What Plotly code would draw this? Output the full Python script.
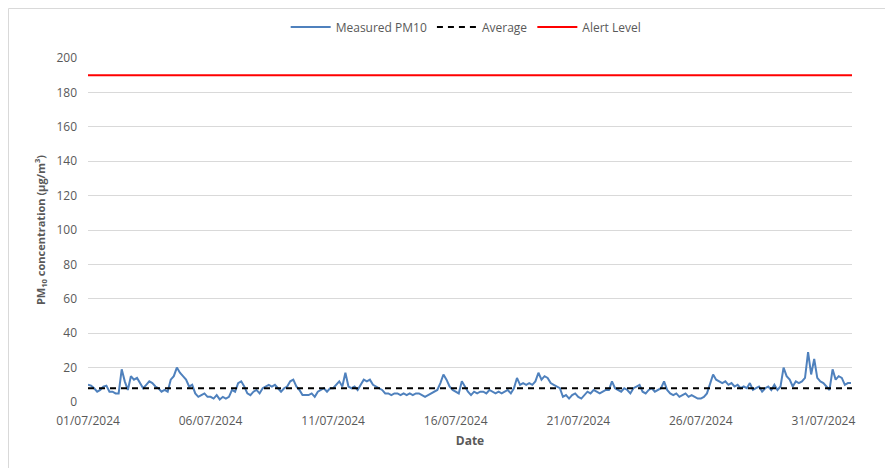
import pandas as pd
import plotly.graph_objects as go

# ---- data (3-hourly readings) ----
start_date = "2024-07-01 00:00"
step_hours = 3
pm10_values = [
    10, 9.5, 8, 6, 7, 9, 9.5, 6,        # 01/07
    6, 5, 5, 19, 12, 7, 15, 13,         # 02/07
    14, 11, 8, 10, 12, 11, 9, 8,        # 03/07
    6, 7, 6, 13, 15, 20, 17, 15,        # 04/07
    13, 9, 10, 5, 3, 4, 5, 3,           # 05/07
    3, 2, 4, 1.5, 3, 2, 3, 7,           # 06/07
    6, 11, 12, 9, 5, 4, 6, 7,           # 07/07
    5, 8, 9, 10, 9, 10, 8, 6,           # 08/07
    8, 9, 12, 13, 9, 7, 4, 4,           # 09/07
    4, 5, 3, 6, 7, 8, 6, 8,             # 10/07
    8, 10, 12, 9, 17, 9, 8, 9,          # 11/07
    7, 10, 13, 12, 13, 10, 9, 8,        # 12/07
    7, 5, 5, 4, 5, 5, 4, 5,             # 13/07
    4, 5, 4, 5, 5, 4, 3, 4,             # 14/07
    5, 6, 7, 11, 16, 13, 9, 7,          # 15/07
    6, 5, 12, 9, 6, 4, 6, 5,            # 16/07
    6, 6, 5, 7, 6, 5, 6, 5,             # 17/07
    6, 7, 5, 8, 14, 10, 11, 10,         # 18/07
    11, 10, 12, 17, 13, 15, 14, 11,     # 19/07
    10, 9, 8, 3, 4, 2, 4, 5,            # 20/07
    3, 2, 4, 6, 5, 7, 6, 5,             # 21/07
    6, 7, 7, 12, 8, 7, 6, 8,            # 22/07
    7, 5, 8, 9, 10, 6, 5, 7,            # 23/07
    8, 6, 7, 8, 12, 7, 5, 4,            # 24/07
    5, 3, 4, 5, 3, 4, 3, 2,             # 25/07
    2, 3, 5, 10, 16, 13, 12, 11,        # 26/07
    12, 10, 11, 9, 10, 8, 9, 8,         # 27/07
    11, 7, 8, 9, 6, 8, 9, 7,            # 28/07
    10, 7, 9, 20, 15, 13, 9, 12,        # 29/07
    11, 12, 14, 29, 16, 25, 14, 12,     # 30/07
    11, 9, 7, 19, 13, 15, 14, 10,       # 31/07
    11, 11,                             # 01/08
]
average_value = 8
alert_level = 190
axis_start = "2024-07-01 00:00"
axis_end = "2024-08-01 04:00"
y_ticks = [0, 20, 40, 60, 80, 100, 120, 140, 160, 180, 200]

times = pd.date_range(start_date, periods=len(pm10_values), freq=f"{step_hours}h")

FONT = "Open Sans"
GREY = "#595959"

# plot area in figure pixels
L, T, PW, PH = 80, 50, 764, 344

fig = go.Figure()
fig.add_trace(go.Scatter(
    x=times, y=pm10_values, mode="lines", name="Measured PM10",
    line=dict(color="#4f81bd", width=2),
))
fig.add_trace(go.Scatter(
    x=[axis_start, axis_end], y=[average_value, average_value], mode="lines",
    name="Average", line=dict(color="black", width=2, dash="6px,5px"),
))
fig.add_trace(go.Scatter(
    x=[axis_start, axis_end], y=[alert_level, alert_level], mode="lines",
    name="Alert Level", line=dict(color="#ff0000", width=2),
))

fig.update_layout(
    width=893, height=468,
    margin=dict(l=L, r=893 - L - PW, t=T, b=468 - T - PH, autoexpand=False),
    paper_bgcolor="white", plot_bgcolor="white",
    font=dict(family=FONT, size=12, color=GREY),
    showlegend=True,
    legend=dict(orientation="h", x=0.495, xanchor="center", y=1.09, yanchor="middle",
                font=dict(family=FONT, size=12, color=GREY), itemwidth=40,
                tracegroupgap=0),
    xaxis=dict(
        type="date", range=[axis_start, axis_end], automargin=False,
        tick0="2024-07-01", dtick=5 * 86400000, tickformat="%d/%m/%Y",
        showgrid=False, zeroline=False, showline=False, ticks="",
        ticklabelstandoff=10,
        tickfont=dict(family=FONT, size=12, color=GREY),
        title=dict(text="<b>Date</b>", font=dict(family=FONT, size=12, color=GREY), standoff=8),
    ),
    yaxis=dict(
        range=[0, 200], tickvals=y_ticks, showgrid=True, gridcolor="#d9d9d9", gridwidth=1,
        zeroline=False, showline=False, ticks="", automargin=False,
        ticklabelstandoff=10,
        tickfont=dict(family=FONT, size=12, color=GREY),
        title=dict(text="<b>PM<sub>10</sub> concentration (µg/m<sup>3</sup>)</b>",
                   font=dict(family=FONT, size=11, color=GREY), standoff=8),
    ),
)

# outer chart frame (left and top edges visible in the reference)
fx = (0.5 - L) / PW
fy = 1 + (T - 0.5) / PH
fig.add_shape(type="line", xref="paper", yref="paper",
              x0=fx, x1=(893 - L) / PW, y0=fy, y1=fy,
              line=dict(color="#d9d9d9", width=1))
fig.add_shape(type="line", xref="paper", yref="paper",
              x0=fx, x1=fx, y0=fy, y1=-(468 - T - PH) / PH,
              line=dict(color="#d9d9d9", width=1))

fig.write_html("out.html")
